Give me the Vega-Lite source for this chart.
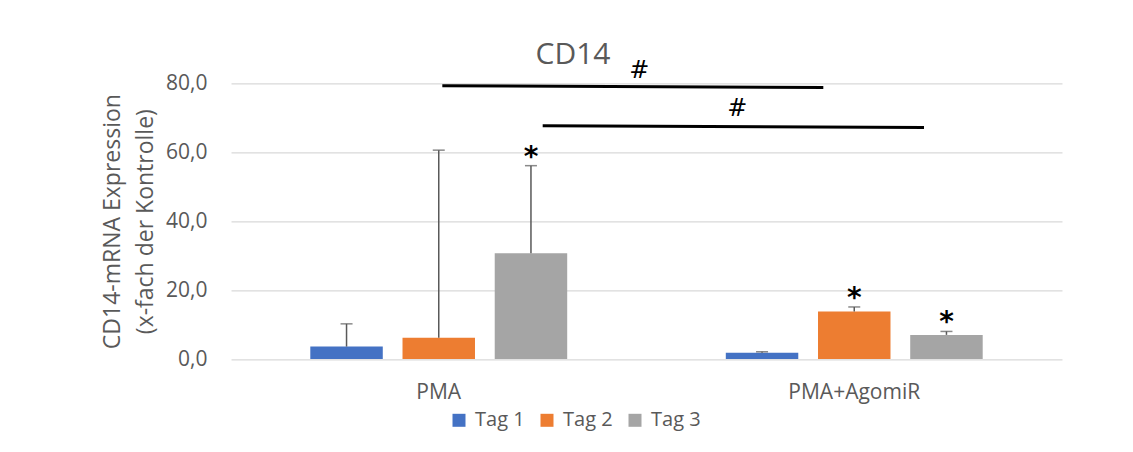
{
  "$schema": "https://vega.github.io/schema/vega-lite/v6.json",
  "width": 831,
  "height": 275.7,
  "autosize": {"type": "none"},
  "padding": {"left": 231, "top": 83.3, "right": 71, "bottom": 93},
  "background": "white",
  "config": {
    "view": {"stroke": null},
    "font": "Open Sans",
    "axisY": {"grid": true, "gridColor": "#D9D9D9", "gridWidth": 1.3, "domain": false, "ticks": false, "labelPadding": 24, "labelFontSize": 21, "labelColor": "#595959", "titleFontSize": 23, "titleFontWeight": "normal", "titleColor": "#595959", "titleLineHeight": 33, "titlePadding": 8},
    "axisX": {"grid": false, "domain": false, "ticks": false, "labelPadding": 22, "labelFontSize": 21, "labelColor": "#595959", "labelAngle": 0}
  },
  "title": {"text": "CD14", "fontSize": 30, "fontWeight": "normal", "color": "#595959", "font": "Open Sans", "anchor": "middle", "dx": -73.5, "baseline": "alphabetic", "offset": -35},
  "datasets": {
    "bars": [
      {"group": "PMA", "tag": "Tag 1", "value": 3.6, "upper": 10.2, "star": ""},
      {"group": "PMA", "tag": "Tag 2", "value": 6.2, "upper": 60.6, "star": ""},
      {"group": "PMA", "tag": "Tag 3", "value": 30.7, "upper": 56.1, "star": "*"},
      {"group": "PMA+AgomiR", "tag": "Tag 1", "value": 1.8, "upper": 2.1, "star": ""},
      {"group": "PMA+AgomiR", "tag": "Tag 2", "value": 13.8, "upper": 15.1, "star": "*"},
      {"group": "PMA+AgomiR", "tag": "Tag 3", "value": 7.0, "upper": 8.0, "star": "*"}
    ],
    "lines": [
      {"x": 0.5086, "x2": 1.4255, "value": 79.3, "value2": 78.8},
      {"x": 0.7502, "x2": 1.6679, "value": 67.7, "value2": 67.2}
    ],
    "hashes": [
      {"x": 0.9827, "value": 83.6, "label": "#"},
      {"x": 1.2186, "value": 72.5, "label": "#"}
    ]
  },
  "encoding": {
    "y": {
      "field": "value",
      "type": "quantitative",
      "scale": {"domain": [0, 80], "nice": false, "zero": true},
      "axis": {"values": [0, 20, 40, 60, 80], "labelExpr": "replace(format(datum.value, '.1f'), '.', ',')"},
      "title": ["CD14-mRNA Expression", "(x-fach der Kontrolle)"]
    }
  },
  "layer": [
    {
      "data": {"name": "bars"},
      "encoding": {
        "x": {"field": "group", "type": "nominal", "sort": ["PMA", "PMA+AgomiR"], "scale": {"paddingInner": 0, "paddingOuter": 0}, "title": null},
        "xOffset": {"field": "tag", "type": "nominal", "sort": ["Tag 1", "Tag 2", "Tag 3"], "scale": {"paddingInner": 0.214, "paddingOuter": 0.86}}
      },
      "layer": [
        {
          "mark": {"type": "bar"},
          "encoding": {
            "color": {
              "field": "tag",
              "type": "nominal",
              "scale": {"domain": ["Tag 1", "Tag 2", "Tag 3"], "range": ["#4472C4", "#ED7D31", "#A5A5A5"]},
              "legend": {"orient": "none", "legendX": 218, "legendY": 327, "direction": "horizontal", "title": null, "symbolType": "square", "symbolSize": 169, "symbolStrokeWidth": 0, "labelFontSize": 20, "labelColor": "#595959", "columnPadding": 12, "labelOffset": 6, "padding": 0}
            }
          }
        },
        {
          "mark": {"type": "rule", "color": "#595959", "strokeWidth": 1.5},
          "encoding": {"y2": {"field": "upper"}}
        },
        {
          "mark": {"type": "tick", "color": "#595959", "thickness": 1.5, "size": 12},
          "encoding": {"y": {"field": "upper", "type": "quantitative"}}
        },
        {
          "transform": [{"filter": "datum.star == '*'"}],
          "mark": {"type": "text", "font": "DejaVu Sans", "fontWeight": "bold", "fontSize": 28, "color": "black", "baseline": "alphabetic", "dy": 0},
          "encoding": {"y": {"field": "upper", "type": "quantitative"}, "text": {"field": "star"}}
        }
      ]
    },
    {
      "layer": [
        {
          "data": {"name": "lines"},
          "mark": {"type": "rule", "color": "black", "strokeWidth": 3},
          "encoding": {
            "x": {"field": "x", "type": "quantitative", "scale": {"domain": [0, 2], "nice": false, "zero": false}, "axis": null},
            "x2": {"field": "x2"},
            "y2": {"field": "value2"}
          }
        },
        {
          "data": {"name": "hashes"},
          "mark": {"type": "text", "font": "DejaVu Sans", "fontSize": 24, "color": "black", "baseline": "middle"},
          "encoding": {
            "x": {"field": "x", "type": "quantitative", "scale": {"domain": [0, 2], "nice": false, "zero": false}, "axis": null},
            "text": {"field": "label"}
          }
        }
      ]
    }
  ],
  "resolve": {"scale": {"x": "independent"}}
}
